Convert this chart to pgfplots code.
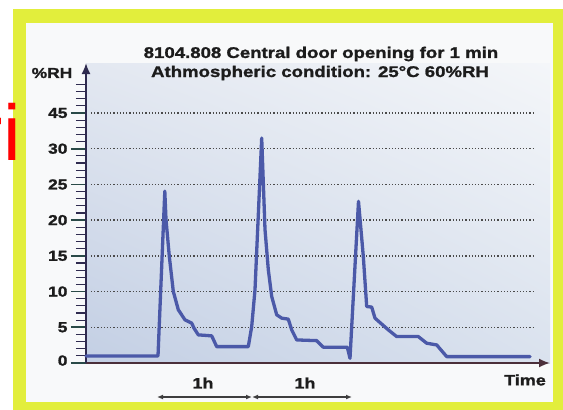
\documentclass[border=0pt]{standalone}
\usepackage{fontspec}
\usepackage{pgfplots}
\pgfplotsset{compat=1.18}
\usetikzlibrary{arrows.meta,shadings}
\newfontfamily\wide[FakeStretch=1.2,FakeBold=1.3]{Liberation Sans Bold}
\newfontfamily\redfont{Liberation Sans}
\definecolor{curve}{HTML}{4B59A8}
\definecolor{yel}{HTML}{E2EE3C}
\definecolor{panel}{HTML}{F8F9FA}
\definecolor{yaxis}{HTML}{2F2B4F}
\definecolor{xaxis}{HTML}{4B2F3A}
\definecolor{mtick}{HTML}{2A4A48}
\definecolor{txt}{HTML}{1C1C1C}
\definecolor{gridc}{HTML}{4A4A4A}
\definecolor{bgul}{HTML}{E3E8F1}
\definecolor{bgur}{HTML}{F4F6F9}
\definecolor{bgll}{HTML}{C3CFE4}
\definecolor{bglr}{HTML}{DAE2EE}
\begin{document}
\begin{tikzpicture}
\fill[white] (0,0) rectangle (563pt,-410pt);
\fill[yel] (13pt,-9pt) rectangle (563pt,-410pt);
\fill[panel] (26pt,-23pt) rectangle (553pt,-402pt);
\begin{axis}[
  at={(86pt,-363pt)}, anchor=south west,
  scale only axis, width=464pt, height=300pt,
  xmin=86, xmax=550, ymin=0, ymax=42,
  axis lines=left,
  axis background/.style={shade, upper left=bgul, upper right=bgur,
     lower left=bgll, lower right=bglr},
  x axis line style={color=xaxis, line width=1.8pt, -{Latex[length=11pt,width=9pt]}},
  y axis line style={color=yaxis, line width=1.8pt, -{Latex[length=11pt,width=9pt]}},
  xtick=\empty,
  ytick={0,5,10,15,20,25,30,35},
  yticklabels={\raisebox{5pt}{0},5,10,15,20,25,30,45},
  minor ytick={1,2,3,4,6,7,8,9,11,12,13,14,16,17,18,19,21,22,23,24,26,27,28,29,31,32,33,34,36,37,38,39},
  tick align=outside,
  major tick length=15pt, minor tick length=10pt,
  major tick style={color=mtick, line width=1.6pt},
  minor tick style={color=yaxis, line width=1.2pt},
  yticklabel style={font=\wide\fontsize{14.5}{16}\selectfont, text=txt},
  clip=false,
]
\pgfplotsinvokeforeach{5,10,15,20,25,30,35}{
  \draw[gridc, line width=1.3pt, dash pattern=on 1.3pt off 1.9pt] (axis cs:91,#1) -- (axis cs:533,#1);
}
\addplot[curve, line width=3.3pt, line join=round, line cap=round] coordinates {
(86,0.98) (158,0.98) (164.8,24.06) (166,20.1) (169.3,14.94) (173.3,10.02)
(178.3,7.45) (185,6.04) (191.7,5.58) (194,4.88) (198.3,3.94) (211.7,3.80)
(216.7,2.29) (248.3,2.29) (251.7,5.10) (255,10.26) (261.7,31.49) (265,18.70)
(268.3,13.07) (271.7,9.32) (276.7,6.75) (281.7,6.28) (288.3,6.14) (291.7,4.64)
(296.7,3.23) (316.7,3.13) (323.3,2.21) (347.3,2.21) (350,0.66) (358.5,22.63)
(363.3,14.94) (366.7,7.91) (371.7,7.83) (375,6.28) (380,5.66) (388.3,4.64)
(396.7,3.70) (418.3,3.70) (426.7,2.77) (436.7,2.53) (446.7,0.89) (530,0.89)
};
\end{axis}
\node[font=\wide\fontsize{15.5}{18}\selectfont, text=txt] at (321pt,-54pt) {8104.808 Central door opening for 1 min};
\node[font=\wide\fontsize{15.5}{18}\selectfont, text=txt] at (320pt,-73pt) {Athmospheric condition: 25°C 60\%RH};
\node[font=\wide\fontsize{14.5}{16}\selectfont, text=txt] at (52pt,-73pt) {\%RH};
\node[font=\wide\fontsize{15}{16}\selectfont, text=txt] at (525pt,-380pt) {Time};
\node[font=\wide\fontsize{15}{16}\selectfont, text=txt] at (203pt,-383pt) {1h};
\node[font=\wide\fontsize{15}{16}\selectfont, text=txt] at (305pt,-383pt) {1h};
\draw[txt!85, line width=1.3pt, {Latex[length=6pt,width=5pt]}-{Latex[length=6pt,width=5pt]}] (157pt,-397pt) -- (252pt,-397pt);
\draw[txt!85, line width=1.3pt, {Latex[length=6pt,width=5pt]}-{Latex[length=6pt,width=5pt]}] (252pt,-397pt) -- (352pt,-397pt);
\node[font=\redfont\fontsize{79}{80}\selectfont, text=red, anchor=base east, inner sep=0pt] at (21pt,-160pt) {ri};
\pgfresetboundingbox
\path[use as bounding box] (0,0) rectangle (563pt,-410pt);
\end{tikzpicture}
\end{document}
